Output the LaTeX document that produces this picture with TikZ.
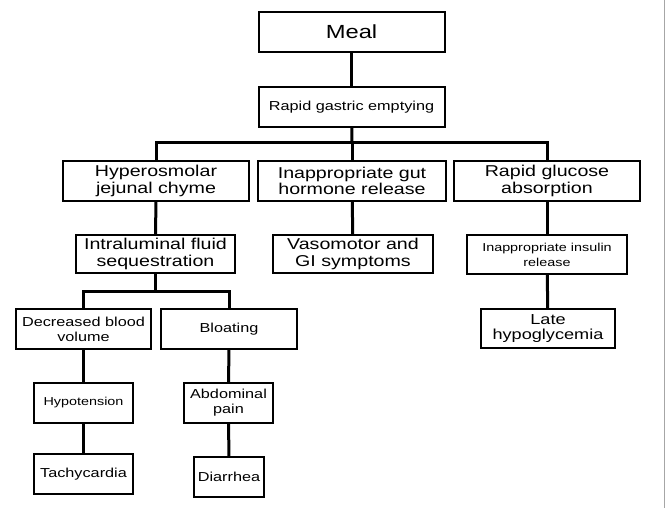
\documentclass[tikz,border=0pt]{standalone}
\usepackage{fontspec}
\setmainfont{Liberation Sans}[FakeStretch=1.25]
\begin{document}
\begin{tikzpicture}[x=1pt,y=-1pt,
  box/.style={draw=black,line width=2pt,fill=white,rectangle,align=center,inner sep=0pt},
  link/.style={draw=black,line width=3pt},
  fa/.style={font=\fontsize{19}{20}\selectfont},
  fb/.style={font=\fontsize{15.7}{16.5}\selectfont},
  fc/.style={font=\fontsize{13}{15}\selectfont},
  fd/.style={font=\fontsize{11.5}{15}\selectfont},
  fe/.style={font=\fontsize{14.5}{14.5}\selectfont}]
\useasboundingbox[fill=white] (0,0) rectangle (665,508);
\draw[gray!70,line width=1pt] (664,0) -- (664,508);
% nodes
\node[box,fa,minimum width=186pt,minimum height=40pt] (meal) at (351.5,32) {Meal};
\node[box,fc,minimum width=186pt,minimum height=40pt] (rge) at (351.5,107) {Rapid gastric emptying};
\node[box,fb,minimum width=186pt,minimum height=40pt] (hyp) at (156,181) {Hyperosmolar\\jejunal chyme};
\node[box,fb,minimum width=188pt,minimum height=40pt] (gut) at (352,181) {Inappropriate gut\\hormone release};
\node[box,fb,minimum width=186pt,minimum height=40pt] (glu) at (547,181) {Rapid glucose\\absorption};
\node[box,fb,minimum width=159pt,minimum height=38pt] (intra) at (155.5,254) {Intraluminal fluid\\sequestration};
\node[box,fb,minimum width=160pt,minimum height=38pt] (vaso) at (353,254) {Vasomotor and\\GI symptoms};
\node[box,fd,minimum width=160pt,minimum height=39pt] (ins) at (547,254.5) {Inappropriate insulin\\release};
\node[box,fe,minimum width=134pt,minimum height=39pt] (late) at (548,328.5) {Late\\hypoglycemia};
\node[box,fc,minimum width=135pt,minimum height=40pt] (dbv) at (83.5,329) {Decreased blood\\volume};
\node[box,fc,minimum width=136pt,minimum height=40pt] (bloat) at (229,329) {Bloating};
\node[box,fd,minimum width=99pt,minimum height=40pt] (hypo) at (83.5,403) {Hypotension};
\node[box,fc,minimum width=99pt,minimum height=40pt] (tachy) at (83.5,474) {Tachycardia};
\node[box,fc,minimum width=89pt,minimum height=40pt] (abd) at (228.5,403) {Abdominal\\pain};
\node[box,fc,minimum width=70pt,minimum height=40pt] (diar) at (229,477) {Diarrhea};
% bus points
\coordinate (bus1) at (352,143);
\coordinate (bus2) at (155.5,292);
% connectors
\draw[link] (meal) -- (rge);
\draw[link] (rge) -- (bus1);
\draw[link] (hyp.north) |- (bus1) -| (glu.north);
\draw[link] (bus1) -- (gut.north);
\draw[link] (hyp) -- (intra);
\draw[link] (gut) -- (vaso);
\draw[link] (glu) -- (ins);
\draw[link] (ins) -- (late);
\draw[link] (intra) -- (bus2);
\draw[link] (dbv.north) |- (bus2) -| (bloat.north);
\draw[link] (dbv) -- (hypo);
\draw[link] (hypo) -- (tachy);
\draw[link] (bloat) -- (abd);
\draw[link] (abd) -- (diar);
\end{tikzpicture}
\end{document}
